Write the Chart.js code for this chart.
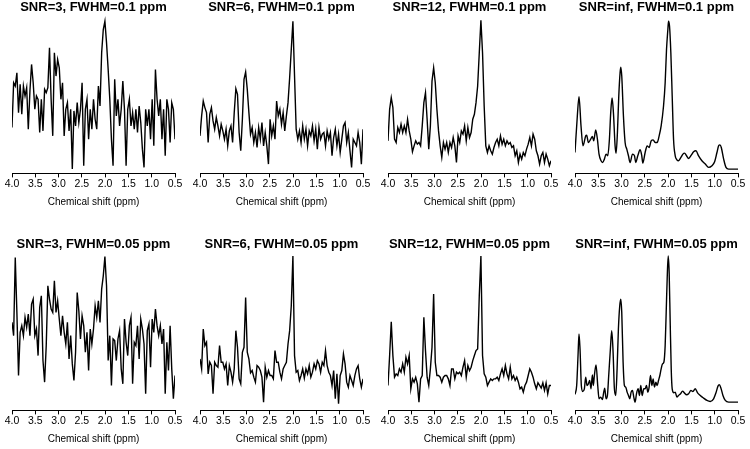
<!DOCTYPE html>
<html>
<head>
<meta charset="utf-8">
<script src="https://cdn.jsdelivr.net/npm/chart.js@4.4.0/dist/chart.umd.min.js"></script>
<style>
html, body { margin: 0; padding: 0; background: #fff; }
body { width: 750px; height: 449px; position: relative; overflow: hidden; }
.panel { position: absolute; width: 183px; height: 208px; }
</style>
</head>
<body>
<div class="panel" style="left:2px;top:0px"><canvas id="c0"></canvas></div>
<div class="panel" style="left:190px;top:0px"><canvas id="c1"></canvas></div>
<div class="panel" style="left:378px;top:0px"><canvas id="c2"></canvas></div>
<div class="panel" style="left:565px;top:0px"><canvas id="c3"></canvas></div>
<div class="panel" style="left:2px;top:237px"><canvas id="c4"></canvas></div>
<div class="panel" style="left:190px;top:237px"><canvas id="c5"></canvas></div>
<div class="panel" style="left:378px;top:237px"><canvas id="c6"></canvas></div>
<div class="panel" style="left:565px;top:237px"><canvas id="c7"></canvas></div>
<script>
var FONT = "'Liberation Sans', Arial, sans-serif";

var titles = [
  'SNR=3, FWHM=0.1 ppm', 'SNR=6, FWHM=0.1 ppm', 'SNR=12, FWHM=0.1 ppm', 'SNR=inf, FWHM=0.1 ppm',
  'SNR=3, FWHM=0.05 ppm', 'SNR=6, FWHM=0.05 ppm', 'SNR=12, FWHM=0.05 ppm', 'SNR=inf, FWHM=0.05 ppm'
];
var xTicks = [4.0, 3.5, 3.0, 2.5, 2.0, 1.5, 1.0, 0.5];

// noisy spectra sampled every 0.035 ppm from 4.0 down to 0.5 (101 points)
var ppmGrid = [];
for (var i = 0; i <= 100; i++) ppmGrid.push(+(4 - 0.035 * i).toFixed(3));

var snr3_fw10 = [138,273,263,303,183,268,178,263,233,258,133,248,328,273,193,233,223,123,223,128,
  253,243,258,378,223,113,363,293,343,318,223,273,113,193,213,128,193,13,188,143,
  213,153,193,273,23,193,223,103,193,133,223,163,133,263,203,363,433,458,393,313,
  223,103,23,283,173,223,143,193,278,193,23,193,223,143,183,133,193,123,203,153,
  73,18,193,143,193,103,223,83,313,223,173,223,103,193,53,223,193,93,213,193,103];
var snr6_fw10 = [113,173,218,198,183,93,178,198,158,133,168,143,113,148,128,103,133,83,128,143,
  93,183,255,238,123,68,163,283,305,253,183,118,138,93,123,78,138,103,153,83,
  123,83,28,163,113,143,103,218,173,193,148,183,128,173,213,288,373,458,293,133,
  103,128,93,143,103,133,83,128,113,143,98,133,73,138,103,118,123,83,128,103,
  123,53,108,133,83,118,63,103,143,153,93,123,68,18,103,93,83,123,93,28,133];
var snr12_fw10 = [98,193,228,198,103,93,138,123,148,123,143,123,163,128,103,65,83,98,88,93,
  83,143,213,243,163,73,143,278,318,273,193,128,83,48,93,73,93,63,93,78,
  108,83,33,113,93,128,118,143,98,138,108,123,163,178,213,263,363,461,363,203,
  83,63,83,68,58,78,93,103,83,113,88,103,83,98,88,93,78,83,53,68,
  33,58,43,63,53,73,88,108,83,118,103,68,53,28,53,63,33,58,43,23,38];
var snr3_fw05 = [265,225,460,295,105,235,255,225,280,250,290,225,320,335,225,245,165,310,345,150,
  85,195,375,335,305,295,390,295,330,275,225,285,235,200,265,155,225,140,90,175,
  355,300,215,285,255,175,235,120,245,200,245,315,280,330,265,365,405,463,375,150,
  225,75,215,210,150,215,240,125,80,275,205,165,255,280,80,205,195,255,155,275,
  245,200,50,240,260,130,275,235,305,255,225,255,200,245,50,205,120,255,125,35,105];
var snr6_fw05 = [155,125,245,195,205,110,145,135,50,145,135,130,195,145,145,125,140,75,135,115,
  85,125,240,190,95,80,175,190,340,175,155,113,120,100,85,135,130,120,100,25,
  130,100,120,105,105,95,180,145,145,115,95,125,135,145,200,240,315,465,165,115,
  120,90,105,125,97,125,110,135,100,115,140,125,150,140,115,145,135,180,135,115,
  105,75,120,35,110,20,105,120,170,140,85,70,105,90,75,105,125,135,95,70,95];
var snr12_fw05 = [75,165,267,165,100,110,105,125,115,140,115,160,140,165,65,95,85,100,80,25,
  95,105,280,180,100,75,125,190,350,145,105,105,100,85,100,105,105,95,75,125,
  125,95,115,110,115,105,130,150,100,135,120,130,150,165,180,185,345,465,165,110,
  100,75,85,95,90,95,95,100,90,110,125,105,135,110,95,130,95,105,90,100,
  85,65,70,55,75,85,105,125,115,100,80,65,83,75,67,83,60,83,50,75,75];

// noise-free spectra, read at peaks and troughs
var inf_fw10_ppm = [4.000,3.950,3.914,3.871,3.828,3.770,3.749,3.713,3.663,3.627,3.598,3.555,3.519,3.484,3.441,3.405,
  3.369,3.333,3.297,3.261,3.233,3.204,3.175,3.139,3.118,3.089,3.060,3.032,3.017,2.996,2.960,2.924,
  2.888,2.852,2.817,2.766,2.723,2.695,2.652,2.601,2.566,2.544,2.494,2.451,2.408,2.365,2.322,2.279,
  2.236,2.193,2.150,2.099,2.064,2.035,2.006,1.992,1.970,1.942,1.913,1.884,1.848,1.812,1.777,1.726,
  1.683,1.648,1.605,1.561,1.504,1.454,1.404,1.346,1.275,1.203,1.131,1.059,1.002,0.952,0.916,0.887,
  0.859,0.808,0.758,0.701,0.500];
var inf_fw10 = [63,173,231,143,83,113,115,93,103,111,98,131,103,58,38,33,
  43,58,53,103,183,227,183,83,61,123,233,303,320,293,173,93,
  73,53,33,58,53,33,53,71,53,31,63,83,78,98,101,93,
  93,113,143,203,273,373,433,458,443,363,233,103,53,41,38,48,
  58,61,53,45,55,65,68,53,38,28,18,23,35,63,83,86,
  78,43,18,13,13];
var inf_fw05_ppm = [4.000,3.964,3.935,3.914,3.892,3.864,3.835,3.799,3.770,3.742,3.713,3.684,3.656,3.627,3.606,3.584,
  3.548,3.512,3.484,3.448,3.412,3.383,3.362,3.333,3.304,3.276,3.240,3.211,3.182,3.154,3.125,3.096,
  3.068,3.039,3.017,2.996,2.967,2.939,2.910,2.881,2.852,2.824,2.795,2.766,2.738,2.709,2.680,2.644,
  2.616,2.587,2.558,2.523,2.494,2.465,2.436,2.408,2.379,2.350,2.322,2.293,2.264,2.236,2.207,2.178,
  2.150,2.121,2.092,2.064,2.042,2.021,1.999,1.978,1.956,1.934,1.913,1.877,1.848,1.812,1.777,1.734,
  1.691,1.648,1.605,1.561,1.511,1.468,1.418,1.368,1.311,1.239,1.167,1.095,1.024,0.973,0.930,0.902,
  0.866,0.823,0.773,0.701,0.500];
var inf_fw05 = [48,75,165,230,185,75,57,65,100,75,80,90,65,107,75,105,
  137,75,35,40,33,55,67,35,45,105,185,240,175,65,45,125,
  245,315,335,295,145,75,70,55,45,35,55,60,40,25,50,65,
  45,75,45,65,65,75,55,70,105,75,95,70,85,75,90,105,
  125,140,145,195,295,395,465,415,265,125,65,53,55,40,45,50,
  58,52,47,50,60,57,65,53,45,37,30,27,35,53,73,77,
  67,45,30,25,25];

var panels = [
  [ppmGrid, snr3_fw10, false], [ppmGrid, snr6_fw10, false], [ppmGrid, snr12_fw10, false], [inf_fw10_ppm, inf_fw10, true],
  [ppmGrid, snr3_fw05, false], [ppmGrid, snr6_fw05, false], [ppmGrid, snr12_fw05, false], [inf_fw05_ppm, inf_fw05, true]
];

function makePanel(k) {
  var xs = panels[k][0], ys = panels[k][1], smooth = panels[k][2];
  var pts = xs.map(function (x, i) { return { x: x, y: ys[i] }; });
  new Chart(document.getElementById('c' + k), {
    type: 'line',
    data: {
      datasets: [{
        data: pts,
        borderColor: '#000',
        borderWidth: 1.4,
        pointRadius: 0,
        fill: false,
        tension: 0,
        cubicInterpolationMode: smooth ? 'monotone' : 'default'
      }]
    },
    options: {
      responsive: true,
      maintainAspectRatio: false,
      animation: false,
      layout: { padding: { left: 10, right: 10, top: 0, bottom: 0 } },
      plugins: {
        legend: { display: false },
        tooltip: { enabled: false },
        title: {
          display: true, text: titles[k], color: '#000', padding: 0,
          font: { family: FONT, size: 13, weight: 'bold', lineHeight: 1.2 }
        }
      },
      scales: {
        x: {
          type: 'linear', reverse: true, min: 0.5, max: 4.0,
          afterBuildTicks: function (axis) { axis.ticks = xTicks.map(function (v) { return { value: v }; }); },
          border: { color: '#000', width: 1 },
          grid: { display: true, drawOnChartArea: false, drawTicks: true, tickLength: 4, color: '#000' },
          ticks: {
            color: '#000', padding: 0.5, maxRotation: 0, autoSkip: false,
            font: { family: FONT, size: 10.5 },
            callback: function (v) { return v.toFixed(1); }
          },
          title: {
            display: true, text: 'Chemical shift (ppm)', color: '#000',
            font: { family: FONT, size: 10 }, padding: { top: 5, bottom: 0 }
          }
        },
        y: { display: false, min: 0, max: 475 }
      }
    }
  });
}

for (var k = 0; k < 8; k++) makePanel(k);
</script>
</body>
</html>
